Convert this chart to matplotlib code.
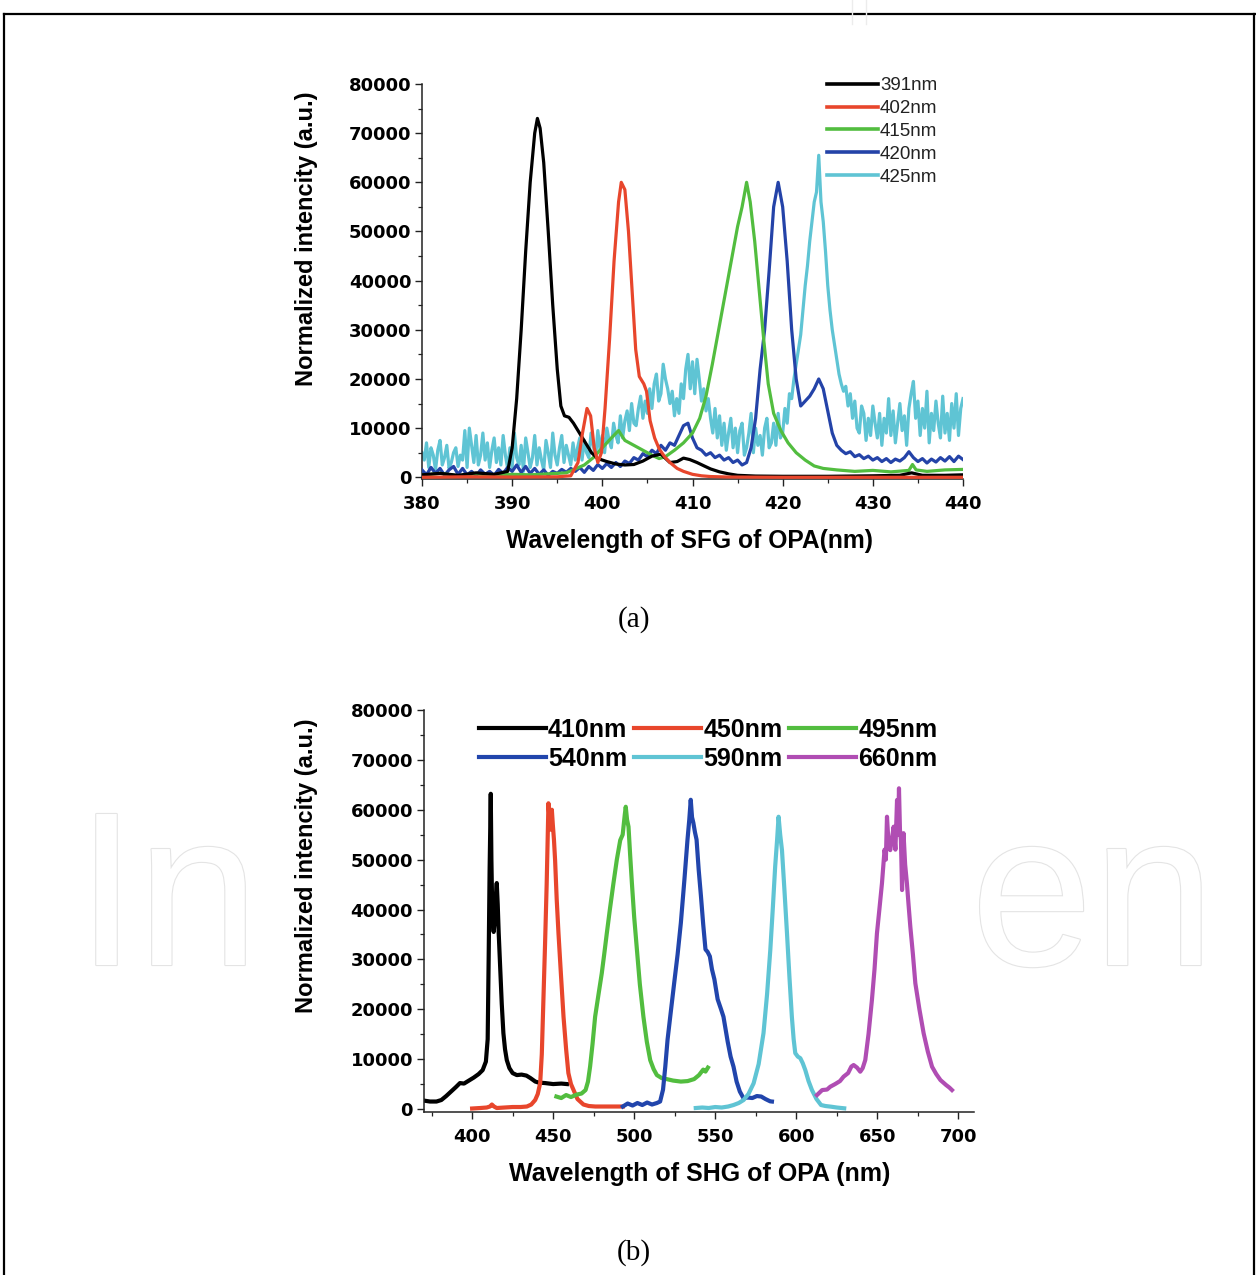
import numpy as np
import matplotlib
matplotlib.use("Agg")
import matplotlib.pyplot as plt
from matplotlib.lines import Line2D
import matplotlib.patheffects as pe
from matplotlib.ticker import MultipleLocator

plt.rcParams['font.family'] = ['Liberation Sans', 'DejaVu Sans']

# ---------------- (a) SFG data ----------------
sfg_labels = ["391nm", "402nm", "415nm", "420nm", "425nm"]
sfg_colors = ["#000000", "#e8462c", "#52bd3f", "#2443a8", "#5fc4d4"]

sfg391_x = [380, 382, 384, 386, 388, 389.5, 390.0, 390.5, 391.0, 391.5, 392.0, 392.5, 392.8, 393.1,
            393.5, 394.0, 394.5, 395.0, 395.4, 395.8, 396.3, 396.8, 397.3, 397.8, 398.3, 398.8,
            399.5, 400.5, 401.5, 402.5, 403.5, 404.5, 405.5, 406.5, 407.5, 408.3, 409.0, 409.7,
            410.5, 411.3, 412.0, 413.0, 414.0, 415.0, 417, 420, 425, 430, 433, 434.3, 435.5, 438, 440]
sfg391_y = [500, 800, 400, 900, 600, 1200, 6000, 16000, 30000, 46000, 60000, 70000, 73000, 71000,
            64000, 50000, 35000, 22000, 14500, 12500, 12200, 11000, 9500, 8000, 6500, 5000,
            3800, 3200, 2700, 2500, 2600, 3300, 4300, 4700, 3000, 3200, 3900, 3600,
            3000, 2300, 1700, 1100, 700, 400, 250, 200, 200, 300, 400, 900, 400, 400, 500]

sfg402_x = [380, 385, 390, 395, 396.5, 397.3, 397.8, 398.3, 398.7, 399.1, 399.5, 399.9, 400.3, 400.8,
            401.3, 401.8, 402.1, 402.5, 402.9, 403.3, 403.7, 404.1, 404.6, 404.9, 405.3, 405.8,
            406.3, 406.9, 407.5, 408.3, 409, 410, 411, 412, 414, 420, 440]
sfg402_y = [0, 100, 50, 100, 300, 3000, 9000, 14000, 12500, 6000, 3000, 5000, 14000, 28000,
            44000, 56000, 60000, 58500, 50000, 38000, 26000, 20500, 19000, 17500, 11500, 8000,
            5800, 4200, 3000, 1800, 1200, 600, 300, 150, 50, 0, 0]

sfg415_x = [380, 382, 384, 386, 388, 390, 392, 394, 396, 398, 399, 400, 401, 401.8, 402.5, 403.5,
            404.5, 405.5, 406.3, 407, 408, 409, 410, 410.8, 411.5, 412.2, 413, 413.7, 414.4, 415,
            415.5, 416, 416.4, 416.9, 417.4, 417.9, 418.4, 419, 419.8, 420.6, 421.5, 422.5, 423.5,
            424.5, 426, 428, 430, 432, 434, 434.4, 434.8, 436, 438, 440]
sfg415_y = [400, 800, 300, 700, 400, 600, 500, 700, 900, 2500, 4000, 6000, 8000, 9500, 7500, 6500,
            5500, 4500, 3800, 4200, 5500, 7000, 9000, 12000, 16500, 23000, 31000, 38000, 45000, 51000,
            55000, 60000, 56000, 48000, 38000, 28000, 19000, 13000, 9500, 7000, 5000, 3500, 2300,
            1800, 1500, 1200, 1400, 1100, 1400, 2600, 1500, 1200, 1500, 1600]

sfg420_x = np.arange(380, 440.001, 0.5)
sfg420_y = [1500, 500, 2000, 800, 1800, 400, 1500, 2200, 600, 1800,
            500, 1200, 300, 1500, 600, 1200, 400, 1600, 800, 2000,
            1200, 2500, 1000, 2200, 800, 1800, 600, 1500, 400, 1200,
            800, 1600, 1000, 1800, 1200, 2000, 1000, 2200, 1400, 2600,
            1800, 2800, 2000, 3000, 2200, 3300, 2800, 4000, 3500, 4800,
            4200, 5500, 4800, 6500, 5500, 7000, 6500, 8500, 10500, 11000,
            8000, 6000, 5500, 4500, 5000, 4000, 4500, 3500, 4000, 3000,
            3500, 2500, 3000, 6000, 12000, 22000, 30000, 42000, 55000, 60000,
            55000, 44000, 30000, 20000, 14500, 15500, 16500, 18000, 20000, 18000,
            13500, 9000, 6500, 5500, 4800, 5200, 4200, 4600, 3800, 4300,
            3500, 4000, 3200, 3800, 3000, 3700, 3300, 4000, 5200, 4000,
            3200, 3800, 2900, 3700, 3100, 4000, 3300, 4200, 3200, 4300,
            3600]

sfg425_x = np.arange(380, 440.001, 0.25)
sfg425_y = [5000, 3500, 7000, 2000, 6000, 4500, 1500, 5500, 7500, 2500, 4000, 6500, 1800, 3000, 5000, 6000, 2200, 4500, 3500, 9500,
            2000, 10000, 6500, 3000, 8500, 2500, 4500, 9000, 3500, 7000, 2000, 5500, 8000, 3000, 6000, 2500, 8500, 4500, 1800, 6000,
            2000, 9000, 4000, 2500, 6500, 1200, 8000, 5000, 2000, 4000, 8500, 2500, 6000, 3500, 1500, 7500, 5000, 2000, 9000, 4500,
            2500, 6000, 8500, 3000, 6500, 4500, 2500, 7000, 3500, 6000, 8000, 3500, 7500, 5000, 4000, 9000, 6500, 4000, 9500, 5500,
            8500, 5000, 10000, 7500, 6000, 11000, 8500, 7000, 12500, 8000, 11500, 13500, 9500, 15000, 11000, 10500, 14000, 16500, 12000, 15500,
            13000, 18000, 14000, 19000, 21000, 15500, 17000, 23000, 20000, 18000, 15000, 17500, 12500, 16000, 13000, 19000, 16000, 22000, 25000, 18000,
            23500, 17000, 24000, 20000, 15500, 18000, 13500, 16000, 12000, 9000, 14000, 8000, 12500, 6500, 11000, 5500, 9000, 12000, 6000, 10000,
            5000, 9500, 11000, 4500, 6000, 9000, 13000, 5000, 10000, 6500, 8500, 4500, 10000, 12000, 6000, 7000, 11000, 6500, 13000, 8000,
            9000, 14000, 11000, 17000, 16000, 20000, 23000, 26000, 29000, 34000, 39000, 43000, 48000, 52000, 56000, 58000, 65500, 56000, 52000, 46000,
            39000, 34000, 30000, 27000, 24000, 21000, 19000, 17500, 18500, 14500, 17000, 12000, 15500, 10000, 9000, 14500, 13000, 7500, 12000, 8500,
            14500, 11000, 8000, 13000, 6500, 12000, 9000, 16000, 8500, 13500, 7000, 11000, 15000, 9500, 12500, 6500, 14000, 17000, 19500, 12000,
            15500, 8500, 14000, 10000, 17500, 7000, 13000, 9500, 15500, 11000, 8000, 16500, 9000, 13000, 7500, 15000, 10000, 17000, 8500, 14000,
            16000]

# ---------------- (b) SHG data ----------------
shg_labels = ["410nm", "450nm", "495nm", "540nm", "590nm", "660nm"]
shg_colors = ["#000000", "#e8462c", "#52bd3f", "#2145ac", "#5fc4d4", "#b04db3"]

shg410_x = [370, 374, 378, 381, 384, 387, 390, 392.5, 395, 398, 401, 404, 406.5, 408.5, 409.6, 410.2,
            410.8, 411.5, 411.9, 412.3, 412.8, 413.3, 414.0, 414.7, 415.2, 415.8, 416.4, 417.3, 418.3,
            419.3, 420.3, 421.4, 423, 425, 427.6, 430.5, 433.5, 436, 439, 441, 445, 450, 455, 458.5]
shg410_y = [1700, 1500, 1500, 1800, 2600, 3500, 4400, 5200, 5100, 5700, 6300, 7000, 7800, 9500, 14000, 30000,
            48000, 63200, 50000, 42000, 37000, 35500, 38000, 43000, 45300, 41000, 35300, 28500, 21000,
            15200, 12000, 9800, 8200, 7200, 6800, 6900, 6700, 6200, 5500, 5300, 5200, 5000, 5100, 5000]

shg450_x = [400, 405, 409, 411, 412.2, 413.5, 415.2, 420, 425, 430, 433.8, 436.5, 438.9, 440.5, 442, 443,
            444, 445, 446, 447.1, 447.8, 448.6, 449.2, 449.8, 450.5, 451.2, 452.2, 453.3, 454.8, 456.4,
            458, 459.4, 461, 462.6, 465, 468.7, 472, 476, 480, 485, 490, 493]
shg450_y = [100, 200, 300, 500, 900, 500, 200, 300, 400, 400, 500, 900, 1800, 3000, 5200, 11000,
            22000, 33000, 45000, 61300, 58000, 56000, 60000, 57000, 54000, 49900, 42000, 35200, 27000, 18500,
            12000, 7200, 5000, 3800, 2000, 900, 600, 500, 500, 500, 500, 500]

shg495_x = [452, 455, 458, 461, 464.6, 467.5, 470, 471.5, 472.8, 474.3, 475.9, 478, 480, 481.5, 483.1,
            485, 487.2, 489.3, 491.4, 492.9, 494.2, 494.8, 495.6, 496.5, 497.5, 498.6, 500, 501.7,
            503.5, 505.7, 507.8, 509.9, 512, 514, 517, 520, 524, 528.8, 533, 537, 540, 542.6, 544, 545.5]
shg495_y = [2500, 2200, 2800, 2400, 2900, 3100, 3800, 5500, 8500, 13000, 18500, 23000, 27200, 31000, 35200,
            40000, 45250, 50000, 53900, 55000, 59000, 60600, 58000, 56600, 51000, 45250, 38500, 31900,
            25000, 18500, 13500, 9800, 8000, 6800, 6200, 6000, 5700, 5500, 5600, 6000, 6800, 7900, 7500, 8300]

shg540_x = [493, 496, 499, 502, 505, 508, 511, 514, 516, 517.8, 519.2, 520.6, 522.6, 524.7, 526.8,
            528.8, 531, 532.9, 534.0, 534.9, 535.7, 536.5, 537.5, 538.5, 539.8, 541.2, 542.6, 544.0,
            545.3, 546.7, 548, 549.5, 551.5, 553.6, 555.1, 557.7, 559.5, 561.3, 563.2, 565.2, 567.5,
            570, 572.9, 575.7, 578.4, 581, 583.9, 585]
shg540_y = [500, 1100, 700, 1200, 800, 1300, 900, 1200, 1500, 3880, 8500, 13900, 19500, 25300, 31000,
            37300, 46000, 54000, 58000, 62000, 58500, 57400, 55500, 54000, 48000, 42700, 37000, 32000,
            31500, 30600, 28000, 26000, 22000, 20000, 18500, 13500, 10500, 8480, 5500, 3500, 2140,
            2300, 2200, 2600, 2500, 2000, 1540, 1500]

shg590_x = [538, 542, 546, 550, 554, 558, 561.3, 564.5, 567.5, 570.5, 573.7, 576.8, 579.8, 582, 584,
            585.5, 587, 588.2, 589.1, 590.1, 591.2, 592.7, 594.3, 595.8, 597.3, 598.4, 599.4, 601,
            602.5, 604, 605.6, 607.6, 609.7, 612.5, 615.3, 618, 621.4, 625, 629.6]
shg590_y = [200, 300, 200, 400, 300, 500, 800, 1200, 1800, 3000, 5150, 9000, 15200, 23000, 31900,
            40000, 48600, 54000, 58600, 55000, 51900, 44000, 35200, 26500, 18500, 14000, 11200, 10500,
            10200, 9200, 7800, 5600, 3800, 2000, 800, 600, 470, 300, 140]

shg660_x = [612.8, 616, 619, 621, 624, 627, 629.2, 632, 634, 635.4, 637.5, 639.5, 641, 642.6, 644.6,
            646.7, 648.3, 649.8, 651.3, 652.9, 654.5, 655.3, 656, 657, 658, 659, 660.1, 661.2, 662.2,
            662.8, 663.4, 664.0, 664.6, 665.3, 666.2, 667.2, 668.3, 669.3, 670.4, 672, 673.5, 676,
            678.6, 681.2, 683.8, 686.4, 689, 692.5, 694.5, 696.1]
shg660_y = [2800, 3800, 3900, 4470, 5000, 5600, 6480, 7200, 8500, 8820, 8300, 7480, 8200, 9820, 15000,
            21850, 28000, 35200, 40000, 45250, 52000, 50000, 58600, 53000, 51900, 54000, 56600, 52000, 61950,
            55000, 64300, 56000, 53900, 43900, 55300, 49000, 45250, 41000, 36550, 31000, 25200, 20000,
            15200, 11500, 8480, 7000, 5800, 4800, 4300, 3800]

caption_a = "(a)"
caption_b = "(b)"
xlabel_a = "Wavelength of SFG of OPA(nm)"
xlabel_b = "Wavelength of SHG of OPA (nm)"
ylabel = "Normalized intencity (a.u.)"
watermark_left = "In"
watermark_right = "en"

# ---------------- figure ----------------
W, H = 1256, 1275
fig = plt.figure(figsize=(W / 100, H / 100), dpi=100)
fig.patch.set_facecolor("white")

def fx(px):
    return px / W

def fy(py):
    return 1 - py / H

# faint watermark (the middle is covered by the chart image)
wm_style = dict(va="baseline", fontsize=158, color="white", family="Liberation Sans", zorder=0.1,
                path_effects=[pe.withStroke(linewidth=1.6, foreground="#e4e4e4")])
fig.text(fx(76), fy(965), watermark_left, ha="left", **wm_style)
fig.text(fx(1215), fy(965), watermark_right, ha="right", **wm_style)

# frame
for (x0, y0, x1, y1) in [(4, 14, 1256, 14), (4, 14, 4, 1275), (1254, 14, 1254, 1275)]:
    fig.add_artist(Line2D([fx(x0), fx(x1)], [fy(y0), fy(y1)], transform=fig.transFigure,
                          color="black", lw=1.6, zorder=1))
for xx in (852, 866):
    fig.add_artist(Line2D([fx(xx), fx(xx)], [fy(0), fy(24)], transform=fig.transFigure,
                          color="#ececec", lw=1.0, zorder=1))

def style_axes(ax):
    for s in ("top", "right"):
        ax.spines[s].set_visible(False)
    for s in ("left", "bottom"):
        ax.spines[s].set_linewidth(1.1)
        ax.spines[s].set_color("#222222")
    ax.tick_params(which="major", direction="out", length=5, width=1.0,
                   labelsize=13, colors="#222222", labelcolor="black")
    ax.tick_params(axis="y", which="major", pad=2.5)
    ax.tick_params(axis="x", which="major", pad=6.5)
    ax.tick_params(which="minor", direction="out", length=3, width=0.9, colors="#222222")
    for lab in ax.get_xticklabels() + ax.get_yticklabels():
        lab.set_fontweight("bold")
        lab.set_family("DejaVu Sans")

# ---- (a) ----
ax1 = fig.add_axes([fx(422), fy(479), fx(963) - fx(422), fy(84) - fy(479)])
ax1.set_zorder(2)
series_a = [(sfg391_x, sfg391_y), (sfg402_x, sfg402_y), (sfg415_x, sfg415_y),
            (sfg420_x, sfg420_y), (sfg425_x, sfg425_y)]
zorders_a = [4, 4, 3.5, 3, 2]
lines_a = []
for (xs, ys), c, lab, z in zip(series_a, sfg_colors, sfg_labels, zorders_a):
    ln, = ax1.plot(xs, ys, color=c, lw=2.3, label=lab, zorder=z, solid_joinstyle="round")
    lines_a.append(ln)
ax1.set_xlim(380, 440)
ax1.set_ylim(-350, 80000)
ax1.set_xticks(range(380, 441, 10))
ax1.xaxis.set_minor_locator(MultipleLocator(5))
ax1.set_yticks(range(0, 80001, 10000))
ax1.yaxis.set_minor_locator(MultipleLocator(5000))
style_axes(ax1)
leg1 = ax1.legend(handles=lines_a, loc="upper left", bbox_to_anchor=(fx(827), fy(77)),
                  bbox_transform=fig.transFigure, frameon=False, fontsize=13.5,
                  handlelength=2.7, handletextpad=0.12, labelspacing=0.31, borderpad=0,
                  borderaxespad=0)
for t in leg1.get_texts():
    t.set_color("#222222")
for h in leg1.get_lines():
    h.set_linewidth(2.6)

fig.text(fx(307), fy(239), ylabel, rotation=90, ha="center", va="center",
         fontsize=17, fontweight="bold")
fig.text(fx(689), fy(541), xlabel_a, ha="center", va="center", fontsize=17.7, fontweight="bold")
fig.text(fx(634), fy(620), caption_a, ha="center", va="center", fontsize=21,
         family="Liberation Serif")

# ---- (b) ----
ax2 = fig.add_axes([fx(423.5), fy(1112), fx(974.5) - fx(423.5), fy(710) - fy(1112)])
ax2.set_zorder(2)
series_b = [(shg410_x, shg410_y), (shg450_x, shg450_y), (shg495_x, shg495_y),
            (shg540_x, shg540_y), (shg590_x, shg590_y), (shg660_x, shg660_y)]
lines_b = []
for (xs, ys), c, lab in zip(series_b, shg_colors, shg_labels):
    ln, = ax2.plot(xs, ys, color=c, lw=3.0, label=lab, solid_joinstyle="round")
    lines_b.append(ln)
ax2.set_xlim(370, 710)
ax2.set_ylim(-600, 80000)
ax2.set_xticks(range(400, 701, 50))
ax2.xaxis.set_minor_locator(MultipleLocator(25))
ax2.set_yticks(range(0, 80001, 10000))
ax2.yaxis.set_minor_locator(MultipleLocator(5000))
style_axes(ax2)
order = [0, 3, 1, 4, 2, 5]
leg2 = ax2.legend(handles=[lines_b[i] for i in order], loc="upper left", ncol=3,
                  bbox_to_anchor=(fx(479), fy(718)), bbox_transform=fig.transFigure,
                  frameon=False, prop={"size": 18, "weight": "bold"},
                  handlelength=2.68, handletextpad=0.08, labelspacing=0.2, columnspacing=0.28,
                  borderpad=0, borderaxespad=0)
for h in leg2.get_lines():
    h.set_linewidth(3.0)

fig.text(fx(307), fy(866), ylabel, rotation=90, ha="center", va="center",
         fontsize=17, fontweight="bold")
fig.text(fx(700), fy(1174), xlabel_b, ha="center", va="center", fontsize=18, fontweight="bold")
fig.text(fx(634), fy(1253), caption_b, ha="center", va="center", fontsize=21,
         family="Liberation Serif")

fig.savefig("out.png", dpi=100, facecolor="white")
